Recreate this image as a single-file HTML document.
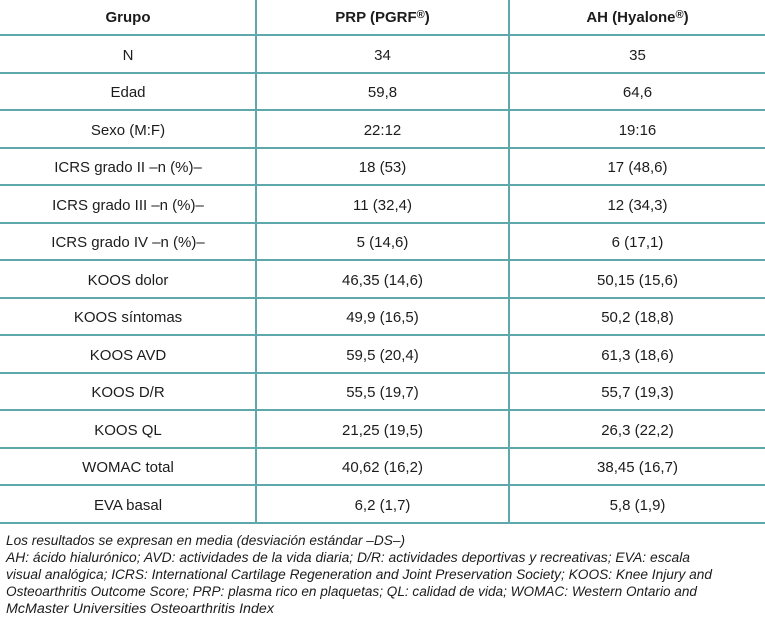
<!DOCTYPE html>
<html>
<head>
<meta charset="utf-8">
<style>
  html,body{margin:0;padding:0;background:#fff;}
  body{width:765px;height:624px;position:relative;overflow:hidden;
       font-family:"Liberation Sans",Arial,sans-serif;color:#1c1c1c;}
  .h{position:absolute;left:0;width:765px;height:2px;background:#5ea8ac;}
  .v{position:absolute;top:0;width:2px;height:524px;background:#5ea8ac;}
  .c{position:absolute;height:37.5px;line-height:37.5px;text-align:center;
     font-size:15px;white-space:nowrap;}
  .c1{left:0;width:256px;}
  .c2{left:257px;width:251px;}
  .c3{left:510px;width:255px;}
  .hd{font-weight:bold;height:34px;line-height:34px;top:1px;}
  .reg{font-size:11px;position:relative;top:-4px;line-height:0;}
  .fn{position:absolute;left:6px;font-size:13.5px;font-style:italic;white-space:nowrap;
      transform-origin:0 0;line-height:17px;}
</style>
</head>
<body>
<!-- horizontal lines -->
<div class="h" style="top:34px"></div>
<div class="h" style="top:71.5px"></div>
<div class="h" style="top:109px"></div>
<div class="h" style="top:146.5px"></div>
<div class="h" style="top:184px"></div>
<div class="h" style="top:221.5px"></div>
<div class="h" style="top:259px"></div>
<div class="h" style="top:296.5px"></div>
<div class="h" style="top:334px"></div>
<div class="h" style="top:371.5px"></div>
<div class="h" style="top:409px"></div>
<div class="h" style="top:446.5px"></div>
<div class="h" style="top:484px"></div>
<div class="h" style="top:522px"></div>
<!-- vertical lines -->
<div class="v" style="left:255px"></div>
<div class="v" style="left:508px"></div>

<!-- header -->
<div class="c c1 hd">Grupo</div>
<div class="c c2 hd">PRP (PGRF<span class="reg">®</span>)</div>
<div class="c c3 hd">AH (Hyalone<span class="reg">®</span>)</div>

<!-- rows -->
<div class="c c1" style="top:36.5px">N</div>
<div class="c c2" style="top:36.5px">34</div>
<div class="c c3" style="top:36.5px">35</div>

<div class="c c1" style="top:74px">Edad</div>
<div class="c c2" style="top:74px">59,8</div>
<div class="c c3" style="top:74px">64,6</div>

<div class="c c1" style="top:111.5px">Sexo (M:F)</div>
<div class="c c2" style="top:111.5px">22:12</div>
<div class="c c3" style="top:111.5px">19:16</div>

<div class="c c1" style="top:149px">ICRS grado II –n (%)–</div>
<div class="c c2" style="top:149px">18 (53)</div>
<div class="c c3" style="top:149px">17 (48,6)</div>

<div class="c c1" style="top:186.5px">ICRS grado III –n (%)–</div>
<div class="c c2" style="top:186.5px">11 (32,4)</div>
<div class="c c3" style="top:186.5px">12 (34,3)</div>

<div class="c c1" style="top:224px">ICRS grado IV –n (%)–</div>
<div class="c c2" style="top:224px">5 (14,6)</div>
<div class="c c3" style="top:224px">6 (17,1)</div>

<div class="c c1" style="top:261.5px">KOOS dolor</div>
<div class="c c2" style="top:261.5px">46,35 (14,6)</div>
<div class="c c3" style="top:261.5px">50,15 (15,6)</div>

<div class="c c1" style="top:299px">KOOS síntomas</div>
<div class="c c2" style="top:299px">49,9 (16,5)</div>
<div class="c c3" style="top:299px">50,2 (18,8)</div>

<div class="c c1" style="top:336.5px">KOOS AVD</div>
<div class="c c2" style="top:336.5px">59,5 (20,4)</div>
<div class="c c3" style="top:336.5px">61,3 (18,6)</div>

<div class="c c1" style="top:374px">KOOS D/R</div>
<div class="c c2" style="top:374px">55,5 (19,7)</div>
<div class="c c3" style="top:374px">55,7 (19,3)</div>

<div class="c c1" style="top:411.5px">KOOS QL</div>
<div class="c c2" style="top:411.5px">21,25 (19,5)</div>
<div class="c c3" style="top:411.5px">26,3 (22,2)</div>

<div class="c c1" style="top:449px">WOMAC total</div>
<div class="c c2" style="top:449px">40,62 (16,2)</div>
<div class="c c3" style="top:449px">38,45 (16,7)</div>

<div class="c c1" style="top:486.5px">EVA basal</div>
<div class="c c2" style="top:486.5px">6,2 (1,7)</div>
<div class="c c3" style="top:486.5px">5,8 (1,9)</div>

<!-- footnotes -->
<div class="fn" data-w="399" style="top:532px">Los resultados se expresan en media (desviación estándar –DS–)</div>
<div class="fn" data-w="684" style="top:549px">AH: ácido hialurónico; AVD: actividades de la vida diaria; D/R: actividades deportivas y recreativas; EVA: escala</div>
<div class="fn" data-w="706" style="top:566px">visual analógica; ICRS: International Cartilage Regeneration and Joint Preservation Society; KOOS: Knee Injury and</div>
<div class="fn" data-w="691" style="top:583px">Osteoarthritis Outcome Score; PRP: plasma rico en plaquetas; QL: calidad de vida; WOMAC: Western Ontario and</div>
<div class="fn" data-w="268" style="top:600px">McMaster Universities Osteoarthritis Index</div>

<script>
  document.querySelectorAll('.fn').forEach(function(el){
    var target = parseFloat(el.getAttribute('data-w'));
    var w = el.getBoundingClientRect().width;
    if (w > 0) el.style.transform = 'scaleX(' + (target / w) + ')';
  });
</script>
</body>
</html>
